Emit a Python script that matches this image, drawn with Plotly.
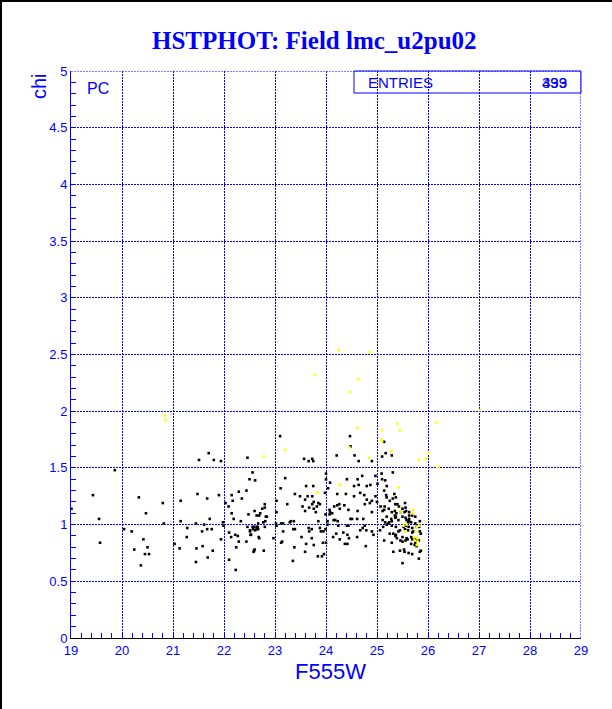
import plotly.graph_objects as go

# ---------------- data ----------------
black_x = [19.86,19.43,19.01,19.55,19.57,20.33,20.47,20.80,20.82,20.04,20.19,20.42,20.50,20.24,20.45,20.53,20.37,
21.15,21.15,21.48,21.67,21.90,21.70,21.51,21.80,21.94,22.46,22.56,22.50,22.61,22.44,22.29,22.15,22.35,22.17,22.03,
22.09,22.15,22.19,22.33,22.48,22.69,21.45,21.61,21.72,21.99,21.76,21.67,21.57,21.28,21.27,21.03,21.13,21.46,21.58,
21.78,21.68,21.45,21.94,22.10,22.14,22.22,22.27,22.29,22.24,22.10,22.23,22.46,22.59,22.66,22.51,22.52,22.64,22.44,
22.69,22.60,22.58,21.98,
23.10,24.47,24.48,25.14,25.17,25.29,25.10,24.56,24.21,23.57,23.66,23.73,23.75,24.64,24.90,25.31,25.09,24.97,24.71,
24.62,24.41,24.00,24.00,24.08,23.20,24.55,24.64,24.80,24.87,25.01,25.10,25.16,25.19,23.61,23.75,23.11,23.39,23.49,
23.64,23.73,23.98,24.04,24.22,24.39,24.67,24.55,24.75,24.80,24.97,25.00,25.18,25.25,25.34,25.37,24.90,23.59,23.76,
23.85,23.88,23.73,23.54,23.67,23.76,23.82,23.59,23.80,23.24,22.80,22.80,22.75,22.82,23.03,23.03,22.60,24.07,24.08,
24.16,24.22,24.26,24.27,24.36,24.44,24.62,24.76,24.86,24.90,25.07,25.14,25.29,25.38,25.36,25.43,25.50,25.56,25.46,
25.54,25.63,25.37,25.42,25.50,25.56,25.63,25.63,25.84,25.75,25.78,25.52,25.62,25.69,25.55,25.61,25.71,25.84,25.50,
25.56,25.60,25.67,25.69,25.75,25.78,25.86,25.45,25.54,25.50,25.82,25.32,25.29,25.14,25.06,25.12,25.19,25.24,25.29,
25.37,25.42,25.36,25.39,24.76,24.79,24.78,24.61,24.67,24.72,24.90,24.93,24.48,24.51,24.61,24.73,24.41,24.44,24.34,
24.42,24.45,24.27,24.37,24.42,24.20,24.14,24.24,24.23,24.15,24.18,24.07,24.12,23.99,24.03,24.03,23.99,23.95,24.00,
23.94,23.84,23.92,23.96,23.85,23.88,23.90,23.72,23.67,23.66,23.39,23.36,23.61,23.76,23.59,23.52,23.72,23.37,23.31,
23.29,23.16,23.12,23.16,23.14,23.12,23.35,23.38,23.02,23.03,22.97,22.84,22.81,22.80,22.77,22.67,22.64,22.67,22.56,
22.57,22.61,22.51,22.68,22.71,22.64,22.53,22.59,22.78,
25.14,25.19,25.31,25.40,25.55,25.15,25.11,25.23,25.35,25.57,25.63,25.69,25.75,25.58,25.35,25.36,25.28,25.19,25.11,
25.61,25.67,25.29,25.22,25.16,25.57,25.83,25.45,25.69,25.86,25.32,25.37,25.25,25.58,25.76,25.82,25.46,25.50,25.67,
25.74,25.62,25.69,25.84,25.53]
black_y = [1.48,1.26,1.14,1.05,0.84,1.24,1.10,1.19,1.01,0.96,0.94,0.87,0.80,0.78,0.74,0.74,0.64,
1.21,1.03,1.27,1.23,1.26,1.63,1.57,1.57,1.56,1.59,1.46,1.40,1.39,1.30,1.29,1.26,1.23,1.21,1.19,
1.16,1.10,1.05,1.03,1.09,1.08,1.01,1.00,1.05,0.99,0.96,0.96,0.94,0.97,0.89,0.83,0.79,0.79,0.81,
0.77,0.71,0.67,0.87,0.93,0.89,0.91,0.90,0.85,0.80,0.69,0.60,0.98,0.98,0.98,0.94,0.91,0.96,0.85,
0.88,0.78,0.76,1.02,
1.78,1.78,1.69,1.73,1.63,1.61,1.60,1.61,1.61,1.58,1.56,1.58,1.56,1.56,1.56,1.46,1.45,1.43,1.43,
1.40,1.40,1.45,1.40,1.37,1.41,1.34,1.35,1.34,1.35,1.36,1.40,1.39,1.34,1.34,1.34,1.32,1.27,1.25,
1.25,1.25,1.28,1.32,1.27,1.27,1.28,1.25,1.26,1.22,1.25,1.20,1.26,1.21,1.27,1.24,1.21,1.22,1.20,
1.19,1.18,1.18,1.16,1.15,1.14,1.16,1.12,1.11,1.18,1.18,1.15,1.14,1.07,1.21,1.11,1.12,1.13,1.11,
1.16,1.17,1.18,1.14,1.17,1.13,1.12,1.18,1.19,1.11,1.16,1.13,1.11,1.10,1.18,1.16,1.14,1.15,1.11,
1.11,1.11,1.07,1.04,1.07,1.06,1.05,1.03,1.03,1.01,0.98,0.98,0.98,0.97,0.96,0.95,0.94,0.94,0.89,
0.86,0.87,0.89,0.87,0.84,0.81,0.77,0.77,0.76,0.66,0.70,0.76,0.84,0.86,0.95,0.98,1.00,1.02,1.03,
0.98,0.94,0.90,0.88,0.99,0.95,0.81,0.89,0.95,0.97,0.94,0.91,1.05,1.05,1.05,1.05,0.99,0.99,0.93,
0.91,0.88,0.87,0.83,0.83,0.92,0.89,0.99,1.03,1.04,1.04,1.09,1.10,1.09,1.03,1.00,0.96,0.94,0.84,
0.84,0.72,0.72,0.74,1.03,0.97,0.94,0.96,0.94,0.97,0.96,0.96,0.83,0.82,0.76,0.89,0.88,1.03,1.03,
1.02,1.01,1.01,0.94,0.85,0.84,0.68,0.80,1.01,0.99,0.88,1.07,1.03,0.98,1.02,1.01,0.98,0.96,0.98,
0.96,0.95,0.95,0.89,1.10,1.08,0.91,0.77,0.77,
1.30,1.24,1.23,1.18,1.19,1.16,1.12,1.14,1.12,1.12,1.08,1.08,1.07,1.04,1.08,1.06,1.05,1.07,1.04,
1.02,1.02,0.99,1.01,1.02,0.99,0.98,0.95,0.93,0.92,0.92,0.91,0.92,0.88,0.87,0.86,0.86,0.85,0.83,
0.82,0.75,0.74,0.76,0.78]

yellow_x = [20.84,20.86,24.25,24.86,23.78,24.63,24.47,24.62,25.10,25.40,25.45,25.09,25.10,26.16,24.46,25.28,
23.20,22.78,24.84,25.82,25.96,26.01,26.20,24.27,23.83,25.43,25.71,25.70,25.46,25.78,25.76,25.73,25.80,25.78,
25.56,25.58,27.01,25.52,25.83,25.79,25.74]
yellow_y = [1.96,1.92,2.54,2.52,2.32,2.28,2.17,1.85,1.83,1.89,1.83,1.75,1.73,1.90,1.68,1.65,
1.66,1.60,1.59,1.57,1.58,1.63,1.51,1.35,1.28,1.33,1.13,1.10,1.11,0.98,0.94,0.89,0.85,0.82,
0.94,1.00,2.01,0.99,0.99,0.88,0.86]

title_text = "HSTPHOT: Field lmc_u2pu02"
x_title = "F555W"
y_title = "chi"
stat_label = "ENTRIES"
stat_values = ["399", "433"]
panel_label = "PC"

BLUE = "#0000ff"
W, H = 612, 709
L, R, T, B = 71, 31, 71, 71
PW, PH = W - L - R, H - T - B


def px_x(p):
    return (p - L) / PW


def px_y(p):
    return (H - B - p) / PH


fig = go.Figure()
fig.add_trace(go.Scatter(x=black_x, y=black_y, mode="markers",
                         marker=dict(symbol="square", size=2.6, color="black", line=dict(width=0)),
                         hoverinfo="skip", showlegend=False))
fig.add_trace(go.Scatter(x=yellow_x, y=yellow_y, mode="markers",
                         marker=dict(symbol="square", size=2.6, color="#ffff00", line=dict(width=0)),
                         hoverinfo="skip", showlegend=False))

tickfont = dict(family="Liberation Sans, Arial, sans-serif", size=13, color=BLUE)

fig.update_xaxes(range=[19, 29], dtick=1, tick0=19, showgrid=True, gridcolor=BLUE, gridwidth=1,
                 griddash="2px,1px", zeroline=False, showline=True, linecolor="black", linewidth=1,
                 ticks="inside", ticklen=5, tickcolor=BLUE, tickfont=tickfont,
                 minor=dict(dtick=0.2, ticks="inside", ticklen=5, tickcolor=BLUE, showgrid=False))
fig.update_yaxes(range=[0, 5], dtick=0.5, tick0=0, showgrid=True, gridcolor=BLUE, gridwidth=1,
                 griddash="2px,1px", zeroline=False, showline=True, linecolor=BLUE, linewidth=1,
                 ticks="inside", ticklen=5, tickcolor=BLUE, tickfont=tickfont,
                 minor=dict(dtick=0.1, ticks="inside", ticklen=5, tickcolor=BLUE, showgrid=False))

shapes = [
    dict(type="line", xref="x", yref="y", x0=19, x1=29, y0=5, y1=5, line=dict(color=BLUE, width=1, dash="2px,1px")),
    dict(type="line", xref="x", yref="y", x0=29, x1=29, y0=0, y1=5, line=dict(color=BLUE, width=1, dash="2px,1px")),
    dict(type="rect", xref="paper", yref="paper", x0=px_x(354), x1=px_x(581), y0=px_y(93), y1=px_y(71),
         line=dict(color=BLUE, width=1)),
    dict(type="line", xref="paper", yref="paper", x0=px_x(1), x1=px_x(1), y0=px_y(709), y1=px_y(0),
         line=dict(color="black", width=2)),
    dict(type="line", xref="paper", yref="paper", x0=px_x(0), x1=px_x(612), y0=px_y(1), y1=px_y(1),
         line=dict(color="black", width=2)),
]

annotations = [
    dict(text="<b>" + title_text + "</b>", x=px_x(314), y=px_y(41), xref="paper", yref="paper",
         showarrow=False, xanchor="center", yanchor="middle",
         font=dict(family="Liberation Serif, Times New Roman, serif", size=25, color=BLUE)),
    dict(text=x_title, x=px_x(330), y=px_y(671), xref="paper", yref="paper", showarrow=False,
         xanchor="center", yanchor="middle",
         font=dict(family="Liberation Sans, Arial, sans-serif", size=22, color=BLUE)),
    dict(text=y_title, x=px_x(39), y=px_y(86), xref="paper", yref="paper", showarrow=False,
         xanchor="center", yanchor="middle", textangle=-90,
         font=dict(family="Liberation Sans, Arial, sans-serif", size=20, color=BLUE)),
    dict(text=panel_label, x=px_x(98), y=px_y(88), xref="paper", yref="paper", showarrow=False,
         xanchor="center", yanchor="middle",
         font=dict(family="Liberation Sans, Arial, sans-serif", size=16, color=BLUE)),
    dict(text=stat_label, x=px_x(400), y=px_y(82), xref="paper", yref="paper", showarrow=False,
         xanchor="center", yanchor="middle",
         font=dict(family="Liberation Sans, Arial, sans-serif", size=15, color=BLUE)),
]
for v in stat_values:
    annotations.append(dict(text=v, x=px_x(554), y=px_y(82), xref="paper", yref="paper", showarrow=False,
                            xanchor="center", yanchor="middle",
                            font=dict(family="Liberation Sans, Arial, sans-serif", size=15, color=BLUE)))

fig.update_layout(width=W, height=H, margin=dict(l=L, r=R, t=T, b=B, autoexpand=False),
                  paper_bgcolor="white", plot_bgcolor="white", showlegend=False,
                  shapes=shapes, annotations=annotations)

fig.write_html("out.html", config={"displayModeBar": False},
               post_script="document.body.style.margin='0px';document.body.style.overflow='hidden';")
